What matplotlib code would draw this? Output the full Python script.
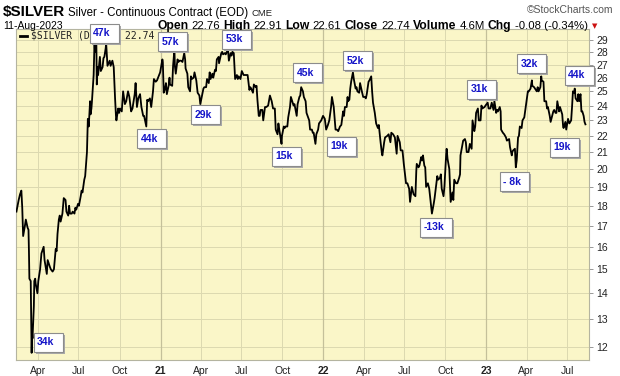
"""Silver continuous contract daily chart, StockCharts style."""

import matplotlib
matplotlib.use("Agg")
import matplotlib.pyplot as plt
import matplotlib.dates as mdates
from matplotlib.lines import Line2D
from matplotlib.patches import Rectangle
from matplotlib.transforms import IdentityTransform
import pandas as pd

# ---- data ----
dates_2020 = [
    "02-13", "02-18", "02-21", "02-24", "02-26", "02-28",
    "03-03", "03-05", "03-06", "03-09", "03-11", "03-12", "03-13", "03-16",
    "03-18", "03-19", "03-20", "03-23", "03-24", "03-26", "03-27", "03-31",
    "04-02", "04-06", "04-09", "04-14", "04-16", "04-21", "04-23", "04-28", "04-30",
    "05-04", "05-07", "05-11", "05-13", "05-15", "05-18", "05-20", "05-22", "05-26", "05-29",
    "06-02", "06-04", "06-08", "06-10", "06-12", "06-16", "06-18", "06-22", "06-24", "06-26", "06-30",
    "07-02", "07-06", "07-08", "07-10", "07-14", "07-16", "07-20", "07-21", "07-22", "07-24",
    "07-27", "07-28", "07-30", "07-31",
    "08-04", "08-06", "08-07", "08-10", "08-11", "08-13", "08-14", "08-18", "08-20", "08-24",
    "08-26", "08-28", "08-31",
    "09-01", "09-04", "09-09", "09-11", "09-15", "09-18", "09-21", "09-23", "09-24", "09-28", "09-30",
    "10-02", "10-06", "10-09", "10-13", "10-16", "10-20", "10-23", "10-27", "10-30",
    "11-04", "11-06", "11-09", "11-12", "11-16", "11-19", "11-23", "11-25", "11-30",
    "12-02", "12-04", "12-08", "12-11", "12-15", "12-17", "12-21", "12-24", "12-31",
]
close_2020 = [
    17.7, 18.3, 18.6, 18.8, 17.9, 16.5,
    17.0, 17.3, 17.2, 16.9, 16.8, 15.8, 14.6, 14.5,
    11.8, 12.5, 12.3, 13.5, 14.5, 14.6, 14.4, 14.0,
    14.5, 15.0, 15.7, 16.0, 15.4, 14.8, 15.4, 15.1, 15.0,
    14.9, 15.0, 15.9, 15.8, 16.6, 17.3, 17.5, 17.2, 17.6, 18.4,
    18.3, 17.7, 17.5, 18.0, 17.6, 17.6, 17.7, 17.6, 17.9, 17.8, 18.1,
    18.0, 18.5, 18.8, 18.7, 19.4, 19.6, 21.0, 22.1, 23.1, 22.6,
    24.3, 23.4, 23.8, 24.2,
    26.2, 28.9, 28.0, 28.9, 25.5, 26.8, 26.2, 27.6, 26.5, 26.8,
    27.5, 27.6, 28.3,
    28.7, 26.9, 27.3, 26.9, 27.3, 26.8, 24.5, 23.3, 23.0, 23.8, 23.5,
    23.8, 23.6, 25.0, 24.1, 24.3, 25.0, 24.6, 23.6, 23.8,
    24.8, 25.6, 23.9, 24.5, 24.8, 23.9, 23.3, 23.3, 22.6,
    24.4, 24.3, 24.5, 23.9, 25.0, 25.9, 25.7, 25.8, 26.4,
]

dates_2021 = [
    "01-05", "01-06", "01-08", "01-11", "01-13", "01-15", "01-19", "01-21", "01-22", "01-27", "01-29",
    "02-01", "02-02", "02-04", "02-08", "02-10", "02-12", "02-16", "02-19", "02-23", "02-25", "02-26",
    "03-02", "03-04", "03-08", "03-10", "03-12", "03-16", "03-18", "03-22", "03-25", "03-29", "03-31",
    "04-05", "04-07", "04-09", "04-13", "04-15", "04-19", "04-21", "04-23", "04-27", "04-29",
    "05-03", "05-05", "05-07", "05-11", "05-12", "05-17", "05-19", "05-21", "05-25", "05-27",
    "06-01", "06-03", "06-07", "06-09", "06-11", "06-14", "06-16", "06-17", "06-21", "06-23", "06-25", "06-29",
    "07-02", "07-06", "07-09", "07-13", "07-15", "07-19", "07-21", "07-23", "07-27", "07-29",
    "08-02", "08-04", "08-06", "08-09", "08-11", "08-13", "08-17", "08-19", "08-23", "08-26", "08-30",
    "09-03", "09-07", "09-10", "09-14", "09-16", "09-20", "09-22", "09-24", "09-29", "09-30",
    "10-04", "10-06", "10-08", "10-12", "10-14", "10-18", "10-20", "10-22", "10-26", "10-28",
    "11-02", "11-04", "11-08", "11-10", "11-12", "11-16", "11-18", "11-22", "11-24", "11-30",
    "12-02", "12-06", "12-08", "12-10", "12-14", "12-16", "12-20", "12-22", "12-27", "12-31",
]
close_2021 = [
    27.4, 27.2, 24.9, 25.2, 25.6, 24.8, 25.4, 26.0, 25.5, 25.4, 26.9,
    28.2, 26.9, 26.3, 27.4, 27.2, 27.3, 27.3, 27.2, 27.9, 27.4, 26.7,
    26.3, 25.3, 25.0, 26.1, 25.9, 26.0, 26.4, 25.8, 24.9, 24.7, 24.1,
    24.9, 25.2, 25.3, 25.3, 25.9, 25.6, 26.4, 25.9, 26.3, 26.0,
    26.6, 26.5, 27.4, 27.6, 27.1, 27.9, 28.0, 27.8, 27.9, 27.8,
    28.2, 27.3, 27.9, 27.7, 28.0, 27.9, 26.5, 25.9, 26.2, 25.9, 26.1, 25.9,
    26.5, 26.2, 26.2, 26.2, 26.2, 25.1, 25.3, 25.2, 24.9, 25.5,
    25.3, 25.4, 24.4, 23.3, 23.3, 23.7, 23.7, 23.0, 23.9, 23.9, 24.0,
    24.7, 24.3, 23.8, 23.8, 22.4, 22.1, 22.8, 22.4, 21.5, 22.0,
    22.6, 22.5, 22.6, 22.6, 23.2, 23.9, 24.6, 24.4, 24.0, 24.1,
    23.3, 24.1, 24.6, 24.7, 25.3, 25.0, 24.6, 24.3, 23.5, 23.0,
    22.4, 22.4, 22.2, 22.2, 21.5, 22.1, 22.4, 22.8, 23.0, 23.3,
]

dates_2022 = [
    "01-04", "01-07", "01-11", "01-14", "01-18", "01-20", "01-24", "01-27", "01-28", "01-31",
    "02-03", "02-07", "02-10", "02-14", "02-16", "02-18", "02-22", "02-24", "02-25", "02-28",
    "03-02", "03-04", "03-08", "03-10", "03-14", "03-16", "03-18", "03-22", "03-24", "03-28", "03-31",
    "04-04", "04-06", "04-08", "04-12", "04-14", "04-18", "04-20", "04-22", "04-26", "04-29",
    "05-03", "05-05", "05-09", "05-12", "05-13", "05-17", "05-19", "05-24", "05-27", "05-31",
    "06-02", "06-06", "06-08", "06-10", "06-14", "06-16", "06-21", "06-23", "06-27", "06-30",
    "07-05", "07-08", "07-12", "07-14", "07-18", "07-20", "07-22", "07-26", "07-28", "07-29",
    "08-02", "08-04", "08-08", "08-10", "08-12", "08-15", "08-17", "08-19", "08-23", "08-26", "08-30",
    "09-01", "09-05", "09-07", "09-09", "09-13", "09-15", "09-19", "09-21", "09-23", "09-27", "09-29",
    "10-03", "10-04", "10-06", "10-10", "10-13", "10-17", "10-19", "10-21", "10-25", "10-28",
    "11-01", "11-03", "11-04", "11-08", "11-10", "11-14", "11-16", "11-18", "11-22", "11-25", "11-29",
    "12-01", "12-05", "12-07", "12-09", "12-13", "12-15", "12-19", "12-21", "12-23", "12-28", "12-30",
]
close_2022 = [
    23.1, 22.4, 22.7, 23.0, 23.9, 24.6, 23.9, 22.8, 22.4, 22.4,
    22.3, 22.6, 22.7, 23.6, 23.3, 23.9, 23.9, 24.6, 24.3, 24.4,
    25.2, 25.7, 26.4, 25.9, 25.2, 25.3, 25.0, 24.9, 25.6, 25.0, 24.6,
    24.6, 24.5, 24.8, 25.7, 25.8, 26.1, 25.0, 24.2, 23.5, 22.8,
    22.5, 22.7, 21.6, 20.9, 20.8, 21.6, 21.9, 22.0, 22.1, 21.6,
    22.2, 22.1, 22.0, 21.9, 20.9, 22.0, 21.6, 21.1, 21.1, 20.3,
    19.2, 19.2, 18.9, 18.2, 19.0, 18.8, 18.6, 18.5, 19.9, 20.3,
    20.1, 20.2, 20.7, 20.5, 20.8, 20.2, 20.1, 19.0, 19.2, 18.9, 18.0,
    17.6, 18.1, 18.4, 18.8, 19.6, 19.4, 19.5, 19.7, 18.9, 18.5, 19.0,
    20.9, 21.2, 20.6, 20.0, 18.2, 18.7, 18.3, 19.4, 19.2, 19.2,
    19.5, 19.7, 20.8, 21.4, 21.7, 21.8, 21.6, 21.0, 21.0, 21.5, 21.2,
    23.0, 22.3, 22.6, 23.5, 23.8, 23.0, 23.0, 24.0, 23.8, 23.9, 24.0,
]

dates_2023 = [
    "01-04", "01-06", "01-10", "01-13", "01-17", "01-19", "01-23", "01-25", "01-27", "01-31",
    "02-02", "02-03", "02-07", "02-10", "02-14", "02-16", "02-21", "02-23", "02-27", "02-28",
    "03-02", "03-06", "03-08", "03-10", "03-13", "03-15", "03-17", "03-21", "03-23", "03-27", "03-31",
    "04-04", "04-06", "04-10", "04-13", "04-14", "04-18", "04-20", "04-24", "04-26", "04-28",
    "05-02", "05-04", "05-05", "05-09", "05-11", "05-15", "05-17", "05-19", "05-23", "05-25", "05-31",
    "06-02", "06-05", "06-07", "06-09", "06-13", "06-15", "06-20", "06-22", "06-23", "06-27", "06-29",
    "07-03", "07-06", "07-10", "07-12", "07-14", "07-17", "07-18", "07-20", "07-24", "07-26", "07-28", "07-31",
    "08-02", "08-04", "08-07", "08-09", "08-11",
]
close_2023 = [
    24.2, 23.8, 23.8, 24.2, 23.7, 24.3, 23.5, 23.7, 23.6, 23.9,
    23.6, 22.4, 22.2, 22.1, 21.9, 21.7, 21.8, 21.3, 20.8, 21.0,
    21.1, 21.2, 20.1, 20.5, 21.9, 22.0, 22.6, 22.5, 23.0, 23.2, 24.1,
    25.0, 25.0, 25.2, 25.8, 25.4, 25.3, 25.2, 25.0, 25.3, 25.0,
    25.3, 26.1, 25.8, 25.7, 24.3, 24.3, 23.8, 23.9, 23.3, 22.9, 23.6,
    23.7, 23.5, 23.5, 24.3, 23.6, 23.9, 23.4, 22.6, 22.5, 22.9, 22.4,
    23.1, 22.8, 23.0, 23.9, 25.0, 24.9, 25.2, 24.5, 24.3, 24.8, 24.3, 24.8,
    23.6, 23.6, 23.3, 22.9, 22.74,
]

# swing-point labels and the date they belong to
note_labels = ["34k", "47k", "57k", "44k", "29k", "53k", "15k", "45k",
               "19k", "52k", "-13k", "31k", "- 8k", "32k", "19k", "44k"]
note_dates = ["2020-03-18", "2020-08-06", "2021-02-01", "2020-11-30", "2021-03-31",
              "2021-05-19", "2021-09-29", "2021-11-12", "2022-01-28", "2022-03-08",
              "2022-09-01", "2022-12-21", "2023-03-08", "2023-05-04", "2023-06-29",
              "2023-07-18"]
# box top-left offset from the point, in pixels (x right, y down)
note_offsets = [(2, -20), (-5, -17), (-16, -17), (-9, 3), (-9, 1),
                (0, -22), (-10, 3), (-8, -24), (-9, 7), (-10, -21),
                (-12, 4), (-14, -26), (-16, 5), (-24, -22), (-16, 8),
                (-10, -23)]

y_ticks = list(range(12, 30))
quarter_starts = pd.date_range("2020-04-01", "2023-07-01", freq="QS")

# ---- build series ----
dates, closes = [], []
for year, ds, cs in [(2020, dates_2020, close_2020), (2021, dates_2021, close_2021),
                     (2022, dates_2022, close_2022), (2023, dates_2023, close_2023)]:
    dates += [pd.Timestamp(f"{year}-{d}") for d in ds]
    closes += cs
price = pd.Series(closes, index=pd.DatetimeIndex(dates))

W, H = 620, 376
plt.rcParams["font.family"] = ["Liberation Sans", "DejaVu Sans"]
fig = plt.figure(figsize=(W / 100, H / 100), dpi=100)
ax = fig.add_axes([16 / W, 1 - 360 / H, (589 - 16) / W, (360 - 29) / H])

bg = "#faf6c8"
grid_c = "#dcd9b0"
ax.set_facecolor(bg)
ax.plot(price.index, price.values, color="black", lw=1.3, zorder=3)

ax.set_yscale("log")
ax.set_ylim(11.56, 29.9)
ax.set_xlim(pd.Timestamp("2020-02-12"), pd.Timestamp("2023-08-19"))

ax.yaxis.tick_right()
ax.set_yticks(y_ticks)
ax.set_yticklabels([str(v) for v in y_ticks])
ax.yaxis.set_minor_locator(matplotlib.ticker.NullLocator())
ax.tick_params(axis="y", length=3, width=0.6, color="#888888", pad=2,
               labelsize=7.5, labelcolor="#222222")
for v in y_ticks:
    ax.axhline(v, color=grid_c, lw=0.7, zorder=1)

ax.set_xticks(quarter_starts)
ax.set_xticklabels([d.strftime("%y") if d.month == 1 else d.strftime("%b")
                    for d in quarter_starts])
ax.tick_params(axis="x", length=0, pad=4, labelsize=7.5, labelcolor="#222222")
for d, lab in zip(quarter_starts, ax.get_xticklabels()):
    if d.month == 1:
        lab.set_fontweight("bold")
        ax.axvline(d, color="#c4c09a", lw=0.9, zorder=1)
    else:
        ax.axvline(d, color=grid_c, lw=0.7, zorder=1)

for s in ax.spines.values():
    s.set_color("#b4b4a0")
    s.set_linewidth(0.8)


def px(x, y):
    """Image pixel (from top-left) -> display coords."""
    return x, H - y


ident = IdentityTransform()
renderer = fig.canvas.get_renderer()


def run_text(x, y, parts, gap=3):
    """Draw text pieces one after another, return end x."""
    for txt, kw in parts:
        t = fig.text(*px(x, y), txt, transform=ident, va="baseline", ha="left", **kw)
        x += t.get_window_extent(renderer).width + gap
    return x


# header
run_text(3, 16, [(r"\$SILVER", dict(fontsize=11, fontweight="bold",
                                     family=["Liberation Sans Narrow", "Liberation Sans"])),
                 ("Silver - Continuous Contract (EOD)", dict(fontsize=8.3)),
                 ("CME", dict(fontsize=6.8, color="#222222"))])
fig.text(*px(613, 13), "©StockCharts.com", transform=ident, ha="right",
         va="baseline", fontsize=7.5, color="#555555")
fig.text(*px(3, 29), "11-Aug-2023", transform=ident, ha="left", va="baseline",
         fontsize=7.5)
b = dict(fontsize=8.7, fontweight="bold")
n = dict(fontsize=8.2)
end = run_text(157, 29, [("Open", b), ("22.76", n), ("High", b), ("22.91", n),
                         ("Low", b), ("22.61", n), ("Close", b), ("22.74", n),
                         ("Volume", b), ("4.6M", n), ("Chg", b), ("-0.08 (-0.34%)", n)],
               gap=3.2)
fig.text(*px(end + 1, 28), "▼", transform=ident, ha="left", va="baseline",
         fontsize=5, color="#cc1111", family="DejaVu Sans")

# legend
fig.add_artist(Line2D([20, 27], [H - 36, H - 36], color="black", lw=2,
                      transform=ident, zorder=5))
fig.text(*px(31, 36), r"\$SILVER (Daily) 22.74", transform=ident, ha="left",
         va="center", fontsize=7, family="DejaVu Sans Mono", color="#222222",
         zorder=5)

# swing labels
for lab, d, (dx, dy) in zip(note_labels, note_dates, note_offsets):
    ts = pd.Timestamp(d)
    ax_x, ax_y = ax.transData.transform((mdates.date2num(ts), price[ts]))
    left = ax_x + dx
    top = (H - ax_y) + dy
    t = fig.text(left + 3.5, H - top - 9.5, lab, transform=ident, ha="left",
                 va="center", fontsize=7.5, fontweight="bold", color="#1414c8",
                 zorder=9)
    tw = t.get_window_extent(renderer).width
    bw, bh = max(29, tw + 11), 19
    fig.add_artist(Rectangle((left + 2, H - top - bh - 2), bw, bh, transform=ident,
                             fc="#a8a8a8", ec="none", zorder=7))
    fig.add_artist(Rectangle((left, H - top - bh), bw, bh, transform=ident,
                             fc="white", ec="#8c8c8c", lw=0.8, zorder=8))

fig.savefig("out.png", dpi=100)
